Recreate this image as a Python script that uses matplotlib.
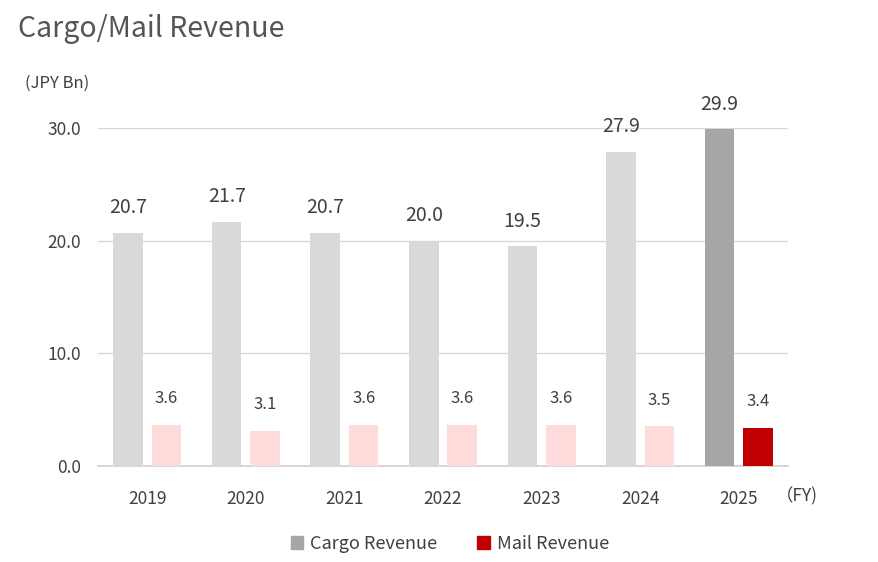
import numpy as np
import matplotlib.pyplot as plt
from matplotlib.patches import Patch

plt.rcParams['font.family'] = ['Noto Sans CJK JP', 'DejaVu Sans']

years = ["2019", "2020", "2021", "2022", "2023", "2024", "2025"]
cargo = [20.7, 21.7, 20.7, 20.0, 19.5, 27.9, 29.9]
mail = [3.6, 3.1, 3.6, 3.6, 3.6, 3.5, 3.4]

txt = "#404040"
cargo_cols = ["#d9d9d9"] * 6 + ["#a6a6a6"]
mail_cols = ["#ffdcdc"] * 6 + ["#c00000"]

fig = plt.figure(figsize=(8.79, 5.62), dpi=100)
ax = fig.add_axes([0.1115, 0.171, 0.785, 0.601])

x = np.arange(len(years))
w = 0.30
off = 0.195
ax.bar(x - off, cargo, w, color=cargo_cols, zorder=3)
ax.bar(x + off, mail, w, color=mail_cols, zorder=3)

for i in range(len(years)):
    ax.annotate(f"{cargo[i]:.1f}", (x[i] - off, cargo[i]), xytext=(0, 18),
                textcoords="offset points", ha="center", va="center",
                fontsize=14, color=txt, annotation_clip=False)
    ax.annotate(f"{mail[i]:.1f}", (x[i] + off, mail[i]), xytext=(0, 19),
                textcoords="offset points", ha="center", va="center",
                fontsize=12, color=txt, annotation_clip=False)

ax.set_xlim(-0.5, 6.5)
ax.set_ylim(0, 30)
ax.set_yticks([0, 10, 20, 30])
ax.set_yticklabels([f"{v:.1f}" for v in [0, 10, 20, 30]])
ax.set_xticks(x)
ax.set_xticklabels(years)
ax.tick_params(axis="both", length=0, labelsize=12.5, labelcolor=txt)
ax.tick_params(axis="x", pad=17)
ax.tick_params(axis="y", pad=12)
ax.grid(axis="y", color="#d9d9d9", linewidth=1, zorder=0)
for s in ["left", "right", "top"]:
    ax.spines[s].set_visible(False)
ax.spines["bottom"].set_color("#d0d0d0")
ax.spines["bottom"].set_linewidth(1.2)

fig.text(0.02, 0.948, "Cargo/Mail Revenue", fontsize=20.5, color="#555555",
         ha="left", va="center")
fig.text(0.028, 0.851, "(JPY Bn)", fontsize=12, color=txt, ha="left", va="center")
fig.text(0.883, 0.117, "（FY)", fontsize=12.5, color=txt, ha="left", va="center")

handles = [Patch(color="#a6a6a6", label="Cargo Revenue"),
           Patch(color="#c00000", label="Mail Revenue")]
fig.legend(handles=handles, loc="center", bbox_to_anchor=(0.512, 0.032), ncol=2,
           frameon=False, fontsize=13, labelcolor=txt, handlelength=0.7,
           handleheight=0.7, handletextpad=0.4, columnspacing=2.2)

fig.savefig("out.png", dpi=100)
